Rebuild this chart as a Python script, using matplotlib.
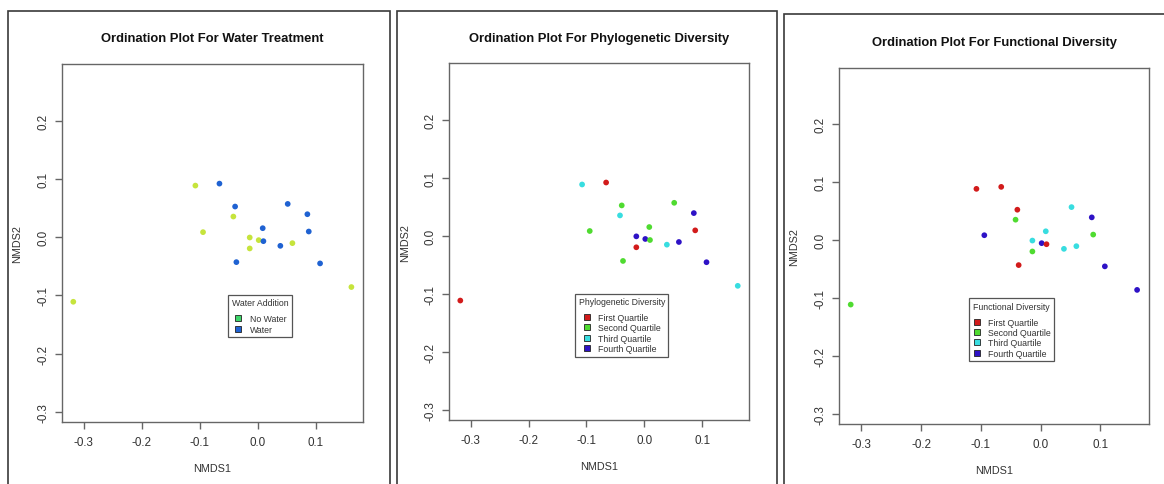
import matplotlib
matplotlib.use("Agg")
import matplotlib.pyplot as plt
from matplotlib.patches import Rectangle
from matplotlib.lines import Line2D

plt.rcParams['font.family'] = ['Liberation Sans', 'DejaVu Sans']

# NMDS scores of the 19 plots
nmds1 = [-0.318, -0.1075, -0.066, -0.0943, -0.042, -0.039, -0.0368, -0.0138, -0.0138, 0.0017,
         0.0086, 0.0098, 0.039, 0.0517, 0.0598, 0.0856, 0.088, 0.1075, 0.1615]
nmds2 = [-0.111, 0.0886, 0.092, 0.0086, 0.0354, 0.0526, -0.0429, -0.0006, -0.0194, -0.0051,
         0.0154, -0.0069, -0.0149, 0.0571, -0.0103, 0.0394, 0.0097, -0.0451, -0.0857]

# group of each plot
water = [0, 0, 1, 0, 0, 1, 1, 0, 0, 0, 1, 1, 1, 1, 0, 1, 1, 1, 0]
phylo = [0, 2, 0, 1, 2, 1, 1, 3, 0, 3, 1, 1, 2, 1, 3, 3, 0, 3, 2]
func = [1, 0, 0, 3, 1, 0, 0, 2, 1, 3, 2, 0, 2, 2, 2, 3, 1, 3, 3]

water_labels = ["No Water", "Water"]
quart_labels = ["First Quartile", "Second Quartile", "Third Quartile", "Fourth Quartile"]

water_point_cols = ['#c6e43c', '#1f62d2']
water_legend_cols = ['#3dd66a', '#1f62d2']
quart_cols = ['#d21b1b', '#4fdb30', '#38dde0', '#2e12c6']

panels = [
    dict(title="Ordination Plot For Water Treatment", groups=water, cols=water_point_cols,
         leg_cols=water_legend_cols, labels=water_labels, leg_title="Water Addition",
         pos=[0.0535, 0.1285, 0.2581, 0.7369], leg_at=(0.5526, 0.3545),
         frame=(8, 12, 382), title_y=39, xlab_y=469, ylab_x=17),
    dict(title="Ordination Plot For Phylogenetic Diversity", groups=phylo, cols=quart_cols,
         leg_cols=quart_cols, labels=quart_labels, leg_title="Phylogenetic Diversity",
         pos=[0.386, 0.1313, 0.2575, 0.7361], leg_at=(0.4194, 0.3546),
         frame=(397, 12, 380), title_y=39, xlab_y=467, ylab_x=405),
    dict(title="Ordination Plot For Functional Diversity", groups=func, cols=quart_cols,
         leg_cols=quart_cols, labels=quart_labels, leg_title="Functional Diversity",
         pos=[0.7211, 0.1237, 0.2658, 0.734], leg_at=(0.418, 0.353),
         frame=(784, 15, 400), title_y=43, xlab_y=471, ylab_x=794),
]

W, H = 1164, 485
fig = plt.figure(figsize=(W / 100, H / 100), dpi=100)

for p in panels:
    fx, fy, fw = p['frame']
    fig.patches.append(Rectangle((fx / W, -0.1), fw / W, 1.1 - fy / H, transform=fig.transFigure,
                                 fill=False, edgecolor='#3a3a3a', lw=1.2))
    ax = fig.add_axes(p['pos'])
    pc = [p['cols'][g] for g in p['groups']]
    ax.scatter(nmds1, nmds2, c=pc, s=17, linewidths=0, zorder=3)
    ax.set_xlim(-0.337, 0.181)
    ax.set_ylim(-0.317, 0.297)
    ax.set_xticks([-0.3, -0.2, -0.1, 0.0, 0.1])
    ax.set_yticks([-0.3, -0.2, -0.1, 0.0, 0.1, 0.2])
    ax.set_xticklabels(["-0.3", "-0.2", "-0.1", "0.0", "0.1"])
    ax.set_yticklabels(["-0.3", "-0.2", "-0.1", "0.0", "0.1", "0.2"], rotation=90, va='center')
    for s in ax.spines.values():
        s.set_color('#666666')
        s.set_linewidth(1.0)
    ax.tick_params(colors='#666666', labelcolor='#333333', labelsize=8.4, length=5, width=1)
    ax.tick_params(axis='x', pad=5)
    ax.tick_params(axis='y', pad=4)

    left = p['pos'][0]
    cx = left + p['pos'][2] / 2
    fig.text(cx, 1 - p['title_y'] / H, p['title'], ha='center', va='center',
             fontsize=9.4, fontweight='bold', color='#111111')
    fig.text(cx, 1 - p['xlab_y'] / H, "NMDS1", ha='center', va='center', fontsize=7.8, color='#333333')
    fig.text(p['ylab_x'] / W, p['pos'][1] + p['pos'][3] / 2, "NMDS2", ha='center', va='center',
             rotation=90, fontsize=7.8, color='#333333')

    handles = [Line2D([], [], ls='none', marker='s', markersize=5, markerfacecolor=c,
                      markeredgecolor='#222222', markeredgewidth=0.6) for c in p['leg_cols']]
    leg = ax.legend(handles, p['labels'], title=p['leg_title'], loc='upper left',
                    bbox_to_anchor=p['leg_at'], borderaxespad=0, fontsize=6.3, title_fontsize=6.3,
                    fancybox=False, framealpha=1, edgecolor='#555555', labelspacing=0.15,
                    handlelength=1.0, handletextpad=0.8, borderpad=0.4)
    leg._legend_box.sep = 5
    leg.get_frame().set_linewidth(0.9)
    for t in leg.get_texts():
        t.set_color('#333333')
    leg.get_title().set_color('#333333')

fig.savefig("out.png", dpi=100)
